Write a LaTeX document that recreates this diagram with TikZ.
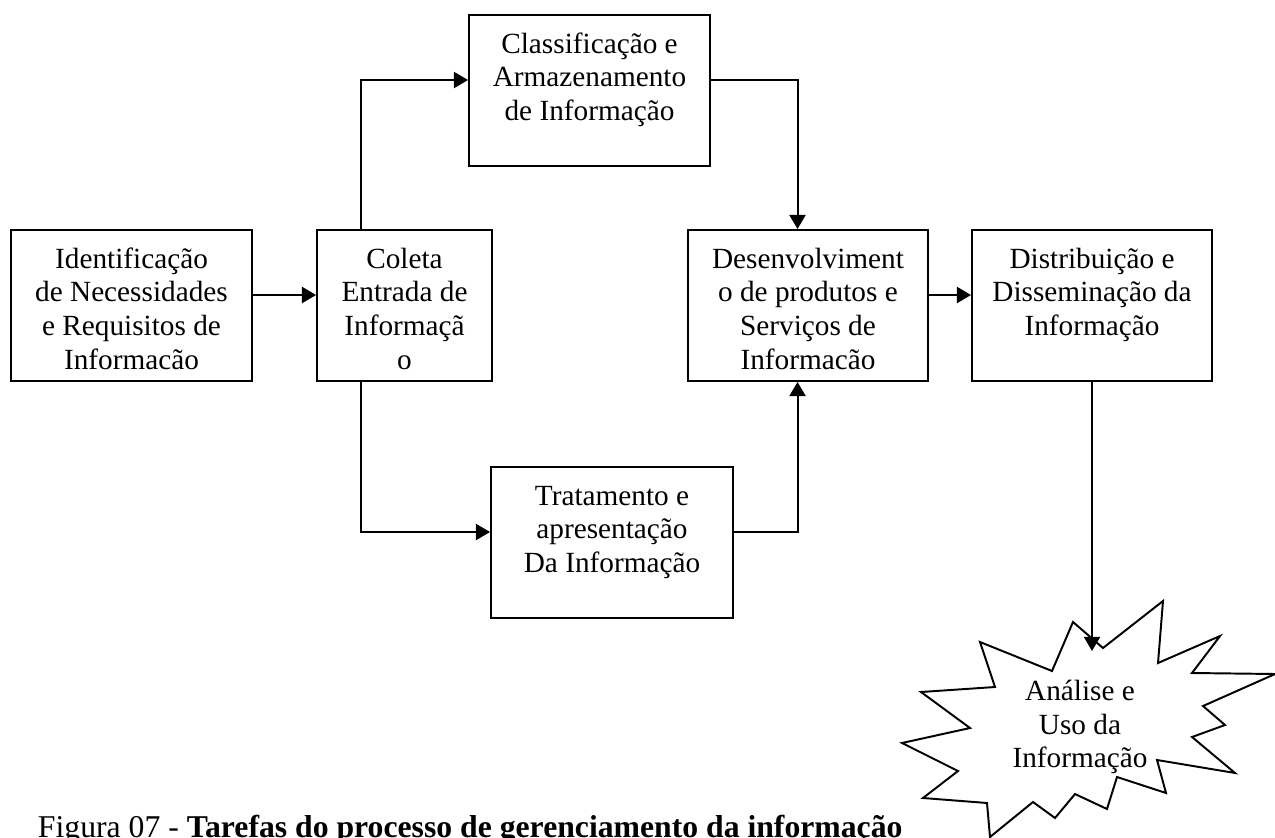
\documentclass[tikz,border=0pt]{standalone}
\usepackage{fontspec}
\setmainfont{Liberation Serif}
\usetikzlibrary{arrows.meta}
\newcommand{\boxtxt}[2]{\parbox[c][61.9pt][t]{#1}{\centering\rule{0pt}{15.6pt}#2}}

\begin{document}
\begin{tikzpicture}[x=0.41pt, y=-0.41pt, thick, >={Triangle[length=5.8pt,width=6.6pt]},
    box/.style={draw, inner sep=0pt, font=\fontsize{12}{13.8}\selectfont}]
    \useasboundingbox (0,0) rectangle (1275,837);
    % tasks
    \node[box] (ident) at (131.5,305.5) {\boxtxt{98.8pt}{Identificação\\ de Necessidades\\ e Requisitos de\\ Informacão}};
    \node[box] (coleta) at (404.5,305.5) {\boxtxt{71.7pt}{Coleta\\ Entrada de\\ Informaçã\\ o}};
    \node[box] (classif) at (589.5,90.5) {\boxtxt{98.8pt}{Classificação e\\ Armazenamento\\ de Informação}};
    \node[box] (trat) at (612,542.5) {\boxtxt{99.2pt}{Tratamento e\\ apresentação\\ Da Informação}};
    \node[box] (desenv) at (808,305.5) {\boxtxt{98.4pt}{Desenvolviment\\ o de produtos e\\ Serviços de\\ Informacão}};
    \node[box] (distrib) at (1092,305.5) {\boxtxt{98.4pt}{Distribuição e\\ Disseminação da\\ Informação}};
    % flow
    \draw[->] ([yshift=4.3pt]ident.east) -- ([yshift=4.3pt]coleta.west);
    \draw[->] ([xshift=-17.8pt]coleta.north) |- ([yshift=4.3pt]classif.west);
    \draw[->] ([xshift=-17.8pt]coleta.south) |- ([yshift=4.3pt]trat.west);
    \draw[->] ([yshift=4.3pt]classif.east) -| ([xshift=-4.3pt]desenv.north);
    \draw[->] ([yshift=4.3pt]trat.east) -| ([xshift=-4.3pt]desenv.south);
    \draw[->] ([yshift=4.3pt]desenv.east) -- ([yshift=4.3pt]distrib.west);
    % use of information
    \draw (1073,622) -- (1103,648) -- (1163,601) -- (1158,663) -- (1220,636) -- (1192,673)
        -- (1275,674) -- (1203,706) -- (1225,725) -- (1192,737) -- (1235,773) -- (1157,760)
        -- (1166,793) -- (1117,777) -- (1107,809) -- (1075,794) -- (1055,818) -- (1033,802)
        -- (990,837) -- (987,803) -- (923,798) -- (958,771) -- (902,743) -- (970,728)
        -- (921,692) -- (995,687) -- (980,642) -- (1052,671) -- cycle;
    \node[align=center, font=\fontsize{12}{13.8}\selectfont] (uso) at (1080,727) {Análise e\\ Uso da\\ Informação};
    \coordinate (usotop) at (1092,651);
    \draw[->] (distrib.south) -- (usotop);
    \node[anchor=base west, inner sep=0pt, font=\fontsize{13}{15}\selectfont] (legenda) at (37,837) {Figura 07 - \textbf{Tarefas do processo de gerenciamento da informação}};
\end{tikzpicture}
\end{document}
